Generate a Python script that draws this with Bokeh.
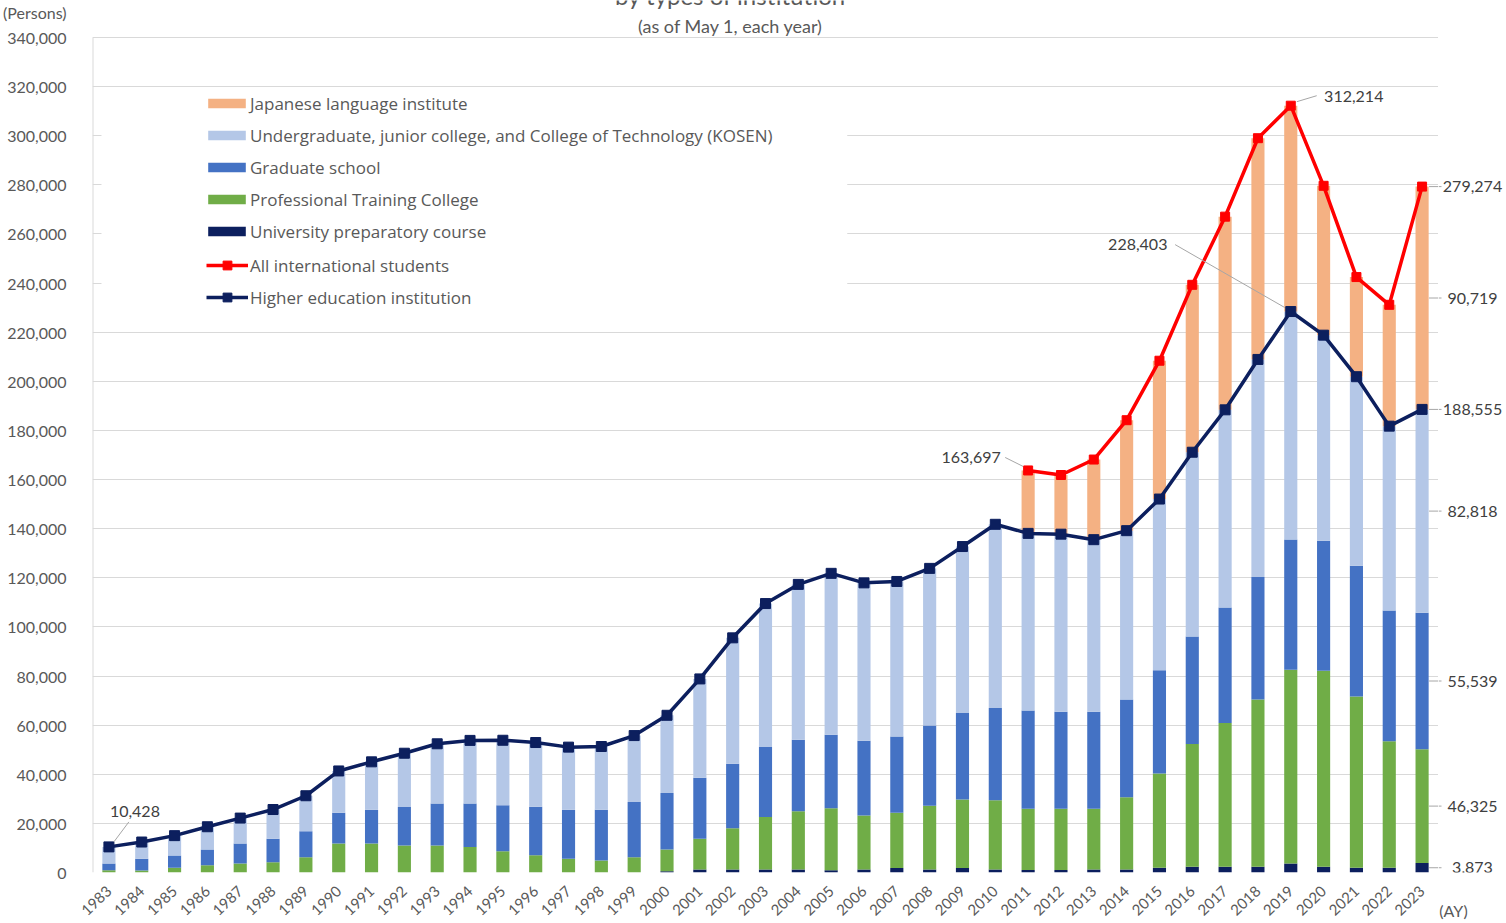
from bokeh.plotting import figure
from bokeh.layouts import row
from bokeh.models import (Range1d, FixedTicker, NumeralTickFormatter, Legend, LegendItem,
                          BoxAnnotation, ColumnDataSource)
from bokeh.core.properties import value
from bokeh.embed import file_html
from bokeh.resources import INLINE

# ---------------- data ----------------
years = list(range(1983, 2024))
prep = [0, 0, 0, 0, 0, 0, 0, 0, 0, 0, 0, 0, 0, 0, 0, 0, 0,
        500, 1200, 1200, 1200, 1200, 900, 1200, 1800, 1200, 1800, 1200,
        1000, 1000, 1200, 1200, 1900, 2300, 2300, 2300, 3673, 2300, 1900, 1900, 3873]
ptc = [900, 800, 1900, 3000, 3700, 4200, 6200, 11800, 11800, 11000, 11000, 10400, 8700, 7000, 5600, 4900, 6200,
       8900, 12500, 16800, 21400, 23700, 25300, 22000, 22500, 26000, 27900, 28200,
       25000, 25000, 24800, 29400, 38400, 50000, 58600, 68100, 78844, 79800, 69800, 51500, 46325]
grad = [2760, 4800, 5000, 6400, 8100, 9500, 10600, 12500, 13800, 15700, 17100, 17700, 18700, 19800, 20000, 20700, 22500,
        23000, 24900, 26300, 28500, 29200, 29900, 30400, 31100, 32700, 35200, 37600,
        40000, 39500, 39500, 39800, 42000, 43800, 47000, 49900, 53089, 53000, 53200, 53300, 55539]
ug = [6768, 6810, 8109, 9231, 10354, 11943, 14451, 17047, 19466, 21861, 24305, 25687, 26447, 26121, 25447, 25698, 27055,
      31611, 40212, 51250, 58408, 63202, 65712, 64327, 63098, 63929, 67820, 74774,
      72075, 72256, 70019, 68785, 69762, 75022, 80484, 88601, 92797, 83683, 76977, 75041, 82818]
jli_years = list(range(2011, 2024))
jli = [25622, 24092, 32626, 44970, 56317, 68165, 78658, 90079, 83811, 60814, 40567, 49405, 90719]
higher = [10428, 12410, 15009, 18631, 22154, 25643, 31251, 41347, 45066, 48561, 52405, 53787, 53847, 52921,
          51047, 51298, 55755, 64011, 78812, 95550, 109508, 117302, 121812, 117927, 118498, 123829, 132720,
          141774, 138075, 137756, 135519, 139185, 152062, 171122, 188384, 208901, 228403, 218783, 201877,
          181741, 188555]
total = [163697, 161848, 168145, 184155, 208379, 239287, 267042, 298980, 312214, 279597, 242444, 231146, 279274]
y_ticks = [0, 20000, 40000, 60000, 80000, 100000, 120000, 140000, 160000, 180000, 200000, 220000,
           240000, 260000, 280000, 300000, 320000, 340000]

names = ["University preparatory course", "Professional Training College", "Graduate school",
         "Undergraduate, junior college, and College of Technology (KOSEN)", "Japanese language institute"]
colors = ["#0c1f5e", "#70ad47", "#4472c4", "#b4c7e7", "#f4b183"]

title_text = "by types of institution"
subtitle_text = "(as of May 1, each year)"
unit_text = "(Persons)"
x_unit_text = "(AY)"

# ---------------- layout constants (pixels) ----------------
FONT = "Lato"
LEG_FONT = "Open Sans"
GREY = "#595959"
LBL_COLOR = "#404040"
LEAD = "#a6a6a6"
W_TOTAL, H = 1506, 923
LEFT = 88                 # frame left
BOTTOM_PANEL = 50         # frame bottom at 873
FRAME_W = 1350
FRAME_B = H - BOTTOM_PANEL
Y340 = 37                 # pixel row of the 340,000 gridline
X0, X1 = 1982.5, 2023.5
YMAX = 340000
DX = (X1 - X0) / FRAME_W
DY = YMAX / (FRAME_B - Y340)
YTOP = FRAME_B * DY       # frame reaches the top of the canvas

def ypix(py):
    """data y of a pixel row (from top of page)"""
    return (FRAME_B - py) * DY

jli_full = [0] * (len(years) - len(jli)) + jli
src = ColumnDataSource(dict(year=years, prep=prep, ptc=ptc, grad=grad, ug=ug, jli=jli_full))

y_range = Range1d(0, YTOP)
p = figure(width=LEFT + FRAME_W, height=H, output_backend="svg", toolbar_location=None,
           x_range=Range1d(X0, X1), y_range=y_range,
           min_border_left=LEFT, min_border_top=0, min_border_right=0, min_border_bottom=BOTTOM_PANEL)
p.outline_line_color = None

stack_keys = ["prep", "ptc", "grad", "ug", "jli"]
bars = p.vbar_stack(stack_keys, x="year", width=0.4, color=colors, line_color=None, source=src)

h_line = p.line(years, higher, line_color="#0c1f5e", line_width=3.5)
h_mark = p.scatter(years, higher, marker="square", size=10, fill_color="#0c1f5e", line_color="#0c1f5e")
t_line = p.line(jli_years, total, line_color="#ff0000", line_width=3.5)
t_mark = p.scatter(jli_years, total, marker="square", size=9, fill_color="#ff0000", line_color="#ff0000")

# x axis
p.xaxis.ticker = FixedTicker(ticks=years)
p.xaxis.major_label_orientation = 0.76
p.xaxis.major_tick_line_color = None
p.xaxis.minor_tick_line_color = None
p.xaxis.axis_line_color = None
p.xaxis.major_label_text_font = FONT
p.xaxis.major_label_text_font_size = "15px"
p.xaxis.major_label_text_color = GREY
p.xaxis.major_label_standoff = 10

# y axis (+ unit label as the top-most label)
persons_pos = round(ypix(12))
p.yaxis.ticker = FixedTicker(ticks=y_ticks + [persons_pos])
p.yaxis.formatter = NumeralTickFormatter(format="0,0")
p.yaxis.major_label_overrides = {persons_pos: unit_text}
p.yaxis.major_tick_line_color = None
p.yaxis.minor_tick_line_color = None
p.yaxis.axis_line_color = None
p.yaxis.major_label_text_font = FONT
p.yaxis.major_label_text_font_size = "16px"
p.yaxis.major_label_text_color = GREY
p.yaxis.major_label_standoff = 20

p.xgrid.grid_line_color = None
p.ygrid.ticker = FixedTicker(ticks=y_ticks)
p.ygrid.grid_line_color = "#d9d9d9"
p.ygrid.grid_line_width = 1

# vertical axis line
p.segment(x0=[X0], y0=[0], x1=[X0], y1=[YMAX], line_color="#d9d9d9", line_width=2)

# white area behind legend
p.add_layout(BoxAnnotation(left=X0 + 9 * DX, right=X0 + 757 * DX, bottom=ypix(318), top=ypix(92),
                           fill_color="white", fill_alpha=1, line_alpha=0))

# legends
bar_items = [LegendItem(label=names[i], renderers=[bars[i]]) for i in [4, 3, 2, 1, 0]]
leg1 = Legend(items=bar_items, location=(111, 629), glyph_width=47, glyph_height=12, label_standoff=0,
              label_height=24, spacing=8, padding=0, margin=0,
              background_fill_alpha=0, border_line_alpha=0,
              label_text_font=LEG_FONT, label_text_font_size="17px", label_text_color=GREY)
line_items = [LegendItem(label="All international students", renderers=[t_line, t_mark]),
              LegendItem(label="Higher education institution", renderers=[h_line, h_mark])]
leg2 = Legend(items=line_items, location=(114, 563), glyph_width=42, glyph_height=22, label_standoff=2,
              label_height=24, spacing=8, padding=0, margin=0,
              background_fill_alpha=0, border_line_alpha=0,
              label_text_font=LEG_FONT, label_text_font_size="17px", label_text_color=GREY)
p.add_layout(leg1)
p.add_layout(leg2)

# titles inside the (top-extended) frame; the main title is cut by the top edge as in the source
p.text([X0 + (728 - LEFT) * DX], [ypix(-5)], text=[title_text], text_align="center",
       text_baseline="alphabetic", text_font=value(FONT), text_font_size="24px", text_color=GREY)
p.text([X0 + (728 - LEFT) * DX], [ypix(26)], text=[subtitle_text], text_align="center",
       text_baseline="middle", text_font=value(FONT), text_font_size="18px", text_color=GREY)

# ---------------- data labels ----------------
def note(xv, yv, txt, tdx, tup, l0, l1):
    p.text([xv], [yv], text=[txt], x_offset=tdx, y_offset=-tup, text_align="center", text_baseline="middle",
           text_font=value(FONT), text_font_size="16px", text_color=LBL_COLOR)
    p.segment(x0=[xv + l0[0] * DX], y0=[yv + l0[1] * DY], x1=[xv + l1[0] * DX], y1=[yv + l1[1] * DY],
              line_color=LEAD, line_width=1)

note(years[0], higher[0], f"{higher[0]:,}", 26, 35, (5, 5), (20, 25))
note(jli_years[0], total[0], f"{total[0]:,}", -57, 13, (-23, 13), (-5, 4))
i19 = years.index(2019)
note(2019, higher[i19], f"{higher[i19]:,}", -153, 67, (-116, 67), (-6, 4))
j19 = jli_years.index(2019)
note(2019, total[j19], f"{total[j19]:,}", 63, 9, (6, 4), (26, 10))

# ---------------- right-hand strip: labels for the last year and the (AY) unit ----------------
RW = W_TOTAL - (LEFT + FRAME_W)
pr = figure(width=RW, height=H, output_backend="svg", toolbar_location=None,
            x_range=Range1d(0, RW), y_range=y_range, y_axis_location=None,
            min_border_left=0, min_border_top=0, min_border_right=0, min_border_bottom=BOTTOM_PANEL)
pr.outline_line_color = None
pr.grid.grid_line_color = None
pr.xaxis.ticker = FixedTicker(ticks=[15])
pr.xaxis.major_label_overrides = {15: x_unit_text}
pr.xaxis.major_label_orientation = "horizontal"
pr.xaxis.axis_line_color = None
pr.xaxis.major_tick_line_color = None
pr.xaxis.minor_tick_line_color = None
pr.xaxis.major_label_text_font = FONT
pr.xaxis.major_label_text_font_size = "16px"
pr.xaxis.major_label_text_color = GREY
pr.xaxis.major_label_standoff = 22

last = years[-1]
segs = [prep[-1], ptc[-1], grad[-1], ug[-1], jli[-1]]
bottoms = [0]
for s in segs[:-1]:
    bottoms.append(bottoms[-1] + s)
right_vals = [(higher[-1], higher[-1]), (total[-1], total[-1])]
for b, s in zip(bottoms, segs):
    right_vals.append((b + s / 2, s))
ry = [v[0] for v in right_vals]
rt = [f"{v[1]:,}" for v in right_vals]
pr.text([34] * len(ry), ry, text=rt, text_align="center", text_baseline="middle",
        text_font=value(FONT), text_font_size="16px", text_color=LBL_COLOR)
pr.segment(x0=[0] * len(ry), y0=ry, x1=[3] * len(ry), y1=ry, line_color=LEAD, line_width=1)
p.segment(x0=[last + 7 * DX] * len(ry), y0=ry, x1=[X1] * len(ry), y1=ry, line_color=LEAD, line_width=1)

layout = row(p, pr, spacing=0)
open("out.html", "w").write(file_html(layout, INLINE))
